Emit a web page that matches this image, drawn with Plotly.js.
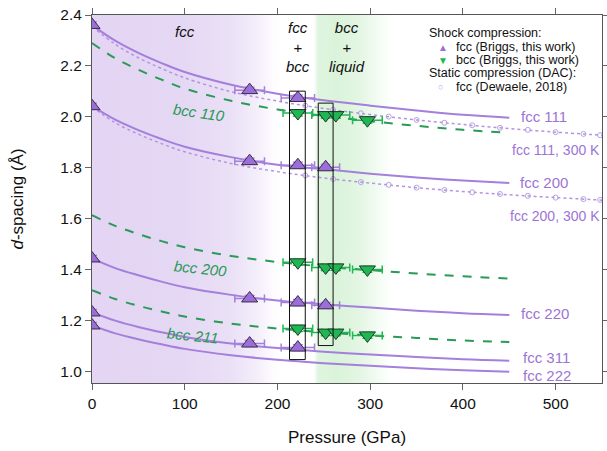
<!DOCTYPE html>
<html><head><meta charset="utf-8">
<script src="https://cdn.plot.ly/plotly-3.0.1.min.js"></script>
<style>body{margin:0;background:#fff}#c{width:607px;height:451px}</style>
</head><body><div id="c"></div>
<script>
// ---- curve data ----
const P_curve = [0,25,50,75,100,150,200,250,300,350,400,450];
const fcc111 = [2.360,2.299,2.251,2.211,2.176,2.126,2.091,2.065,2.044,2.025,2.008,1.997];
const fcc200 = [2.042,1.989,1.948,1.913,1.883,1.842,1.812,1.795,1.777,1.762,1.750,1.740];
const fcc220 = [1.444,1.406,1.378,1.353,1.331,1.301,1.279,1.264,1.251,1.239,1.229,1.222];
const fcc311 = [1.232,1.200,1.175,1.154,1.136,1.110,1.092,1.078,1.067,1.057,1.048,1.042];
const fcc222 = [1.181,1.150,1.127,1.107,1.089,1.064,1.046,1.033,1.023,1.013,1.005,0.999];
const bcc110 = [2.290,2.230,2.185,2.146,2.111,2.063,2.029,2.004,1.983,1.965,1.949,1.937];
const bcc200 = [1.614,1.572,1.540,1.512,1.488,1.454,1.430,1.412,1.398,1.385,1.374,1.365];
const bcc211 = [1.319,1.285,1.258,1.236,1.216,1.188,1.169,1.154,1.142,1.132,1.122,1.116];

const P_300K = [0,25,50,75,100,150,200,250,300,350,400,450,500,550];
const fcc111_300K = [2.355,2.285,2.232,2.190,2.153,2.099,2.062,2.033,2.009,1.988,1.970,1.954,1.940,1.928];
const fcc200_300K = [2.040,1.977,1.932,1.895,1.863,1.817,1.785,1.760,1.740,1.722,1.707,1.694,1.683,1.673];

// ---- static compression points (Dewaele 2018) ----
const P_dac = [230,260,290,320,350,380,410,440,470,500,530,548];
const dac111 = [2.044,2.028,2.014,2.001,1.988,1.977,1.967,1.957,1.949,1.940,1.933,1.928];
const dac200 = [1.770,1.756,1.744,1.733,1.722,1.713,1.704,1.697,1.690,1.683,1.677,1.674];

// ---- shock points ----
const fccP   = [0,0,0,0,0, 170,170,170,170, 222,222,222,222, 252,252];
const fccD   = [2.361,2.042,1.444,1.232,1.181, 2.105,1.826,1.287,1.110, 2.074,1.810,1.271,1.094, 1.802,1.260];
const fccPerr= [0,0,0,0,0, 16,16,16,16, 18,18,18,18, 15,15];
const bccP   = [222,222,222, 252,252,252, 263,263,263, 297,297,297];
const bccD   = [2.015,1.429,1.169, 2.007,1.409,1.153, 2.007,1.409,1.153, 1.987,1.401,1.142];
const bccPerr= [16,16,16, 15,15,15, 15,15,15, 16,16,16];

// ---- legend text ----
const legendRows = ['Shock compression:','fcc (Briggs, this work)','bcc (Briggs, this work)','Static compression (DAC):','fcc (Dewaele, 2018)'];

const PURPLE='#a47fdb', PURPLE_T='#9d74d6', GREEN='#2a9a58', GREEN_FILL='#1fb653';

const traces = [];
traces.push({x:[0,550,550,0,0], y:[0.955,0.955,2.4,2.4,0.955], mode:'lines', fill:'toself',
  line:{width:0}, hoverinfo:'skip', showlegend:false,
  fillgradient:{type:'horizontal', start:0, stop:550, colorscale:[
    [0,'#e3d5f3'],[0.18,'#e5d8f4'],[0.27,'#eae0f6'],[0.32,'#f3edfa'],[0.355,'#fcfbfe'],[0.372,'#ffffff'],
    [0.435,'#ffffff'],[0.443,'#e0f5e0'],[0.48,'#daf3da'],[0.525,'#e4f6e4'],[0.565,'#f5fcf5'],[0.59,'#ffffff'],[1,'#ffffff']]}
});
function line(y,x,dash,color,w){return {x:x,y:y,mode:'lines',line:{color:color,width:w,dash:dash,shape:'spline'},hoverinfo:'skip',showlegend:false};}
[fcc111_300K,fcc200_300K].forEach(a=>traces.push(line(a,P_300K,'dot','#b394e0',1.5)));
[bcc110,bcc200,bcc211].forEach(a=>traces.push(line(a,P_curve,'dash',GREEN,2)));
[fcc111,fcc200,fcc220,fcc311,fcc222].forEach(a=>traces.push(line(a,P_curve,'solid',PURPLE,2)));
[dac111,dac200].forEach(a=>traces.push({x:P_dac,y:a,mode:'markers',showlegend:false,hoverinfo:'skip',
  marker:{symbol:'circle-open',size:5,color:'#b9a0e2',line:{width:1}}}));
traces.push({x:fccP,y:fccD,mode:'markers',showlegend:false,
  error_x:{type:'data',array:fccPerr,color:PURPLE,thickness:1.5,width:4},
  error_y:{type:'constant',value:0.012,color:PURPLE,thickness:1.2,width:5},
  marker:{symbol:'triangle-up',size:14,color:'#9b6ed8',line:{color:'#3a2b4d',width:1}}});
traces.push({x:bccP,y:bccD,mode:'markers',showlegend:false,
  error_x:{type:'data',array:bccPerr,color:GREEN_FILL,thickness:1.5,width:4},
  error_y:{type:'constant',value:0.012,color:GREEN_FILL,thickness:1.2,width:5},
  marker:{symbol:'triangle-down',size:14,color:GREEN_FILL,line:{color:'#1e3a25',width:1}}});

const F='Liberation Sans, Arial, sans-serif';
const L=92, R=602, T=15, B=383;
function px(x){return (x-L)/(R-L);} function py(y){return (B-y)/(B-T);}
function lab(t,x,y,xa,color,size,angle,italic,ya){return {text:italic?'<i>'+t+'</i>':t,x:x,y:y,xref:'x',yref:'y',xanchor:xa||'center',yanchor:ya||'middle',
  showarrow:false,textangle:angle||0,font:{family:F,size:size||15,color:color}};}
function plab(t,x,y,color,size){return {text:t,x:px(x),y:py(y),xref:'paper',yref:'paper',xanchor:'left',yanchor:'middle',showarrow:false,
  font:{family:F,size:size,color:color}};}
const annotations=[
  lab('fcc',100,2.335,'center','#111',15,0,true),
  lab('fcc<br>+<br>bcc',222,2.4,'center','#111',15,0,true,'top'),
  lab('bcc<br>+<br>liquid',275,2.4,'center','#111',15,0,true,'top'),
  lab('bcc 110',115,2.019,'center',GREEN,15,8,true),
  lab('bcc 200',117,1.405,'center',GREEN,15,6,true),
  lab('bcc 211',108,1.142,'center',GREEN,15,6,true),
  lab('fcc 111',461,2.0,'left',PURPLE_T,15),
  lab('fcc 111, 300 K',550,1.869,'right',PURPLE_T,14),
  lab('fcc 200',459,1.741,'left',PURPLE_T,15),
  lab('fcc 200, 300 K',550,1.61,'right',PURPLE_T,14),
  lab('fcc 220',461,1.228,'left',PURPLE_T,15),
  lab('fcc 311',463,1.057,'left',PURPLE_T,15),
  lab('fcc 222',463,0.986,'left',PURPLE_T,15),
  // legend
  plab(legendRows[0],427,33,'#111',12.5),
  plab('▲',436,47,'#9b6ed8',10),
  plab(legendRows[1],454,47,'#111',12.5),
  plab('▼',436,60,GREEN_FILL,10),
  plab(legendRows[2],454,60,'#111',12.5),
  plab(legendRows[3],427,73,'#111',12.5),
  plab('○',436,87,'#b9a0e2',9),
  plab(legendRows[4],454,87,'#111',12.5)
];
annotations[1].yshift=-2; annotations[2].yshift=-2;

const shapes=[
  {type:'rect',xref:'x',yref:'y',x0:213,x1:230,y0:1.047,y1:2.101,line:{color:'#111',width:1}},
  {type:'rect',xref:'x',yref:'y',x0:244,x1:260,y0:1.102,y1:2.054,line:{color:'#111',width:1}}
];

const layout={
  width:607,height:451,margin:{l:92,r:5,t:15,b:68},
  paper_bgcolor:'#fff',plot_bgcolor:'#fff',font:{family:F,color:'#111'},showlegend:false,
  xaxis:{range:[0,550],tickvals:[0,100,200,300,400,500],ticks:'outside',ticklen:6,tickcolor:'#666',
    showgrid:false,zeroline:false,showline:true,linecolor:'#555',mirror:'ticks',
    tickfont:{size:15.5,color:'#111'},title:{text:'Pressure (GPa)',font:{size:17,color:'#111'},standoff:20}},
  yaxis:{range:[0.955,2.4],tickvals:[1.0,1.2,1.4,1.6,1.8,2.0,2.2,2.4],ticktext:['1.0','1.2','1.4','1.6','1.8','2.0','2.2','2.4'],
    ticks:'outside',ticklen:6,tickcolor:'#666',showgrid:false,zeroline:false,showline:true,linecolor:'#555',mirror:'ticks',
    tickfont:{size:15.5,color:'#111'},title:{text:'<i>d</i>-spacing (Å)',font:{size:17,color:'#111'},standoff:32}},
  annotations:annotations,shapes:shapes
};
Plotly.newPlot('c',traces,layout,{displayModeBar:false,staticPlot:true});
</script></body></html>
